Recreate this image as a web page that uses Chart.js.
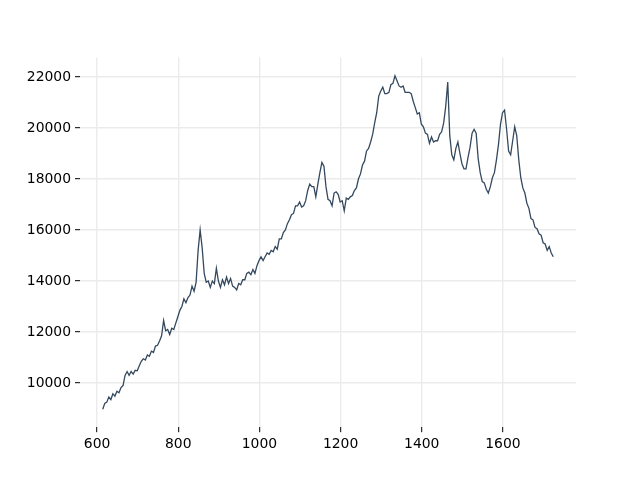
<!DOCTYPE html>
<html>
<head>
<meta charset="utf-8">
<script src="https://cdn.jsdelivr.net/npm/chart.js@4/dist/chart.umd.min.js"></script>
<style>
  body { margin: 0; background: #fff; }
  canvas { display: block; }
</style>
</head>
<body>
<canvas id="chart" width="640" height="480"></canvas>
<script>
// x positions: one reading every 5 units, starting at 614
const xStart = 614;
const xStep = 5;

// values, one per x position
const values = [
  8970, 9200, 9250, 9450, 9350, 9580, 9480, 9680, 9620, 9820,
  9900, 10300, 10450, 10300, 10450, 10350, 10500, 10480, 10680, 10850,
  10950, 10900, 11100, 11050, 11250, 11200, 11450, 11480, 11650, 11850,
  12450, 12050, 12100, 11900, 12150, 12100, 12350, 12600, 12850, 13000,
  13300, 13150, 13350, 13450, 13800, 13600, 13950, 15200, 16000, 15300,
  14300, 13950, 14000, 13750, 14000, 13900, 14500, 14000, 13750, 14050,
  13850, 14150, 13900, 14100, 13800, 13750, 13650, 13900, 13850, 14050,
  14050, 14300, 14350, 14250, 14450, 14300, 14600, 14800, 14950, 14800,
  14950, 15100, 15050, 15200, 15150, 15350, 15250, 15650, 15650, 15900,
  16000, 16250, 16400, 16600, 16650, 16950, 16950, 17100, 16900, 16950,
  17150, 17550, 17800, 17700, 17700, 17300, 17800, 18250, 18650, 18500,
  17700, 17200, 17150, 16950, 17450, 17500, 17400, 17100, 17150, 16750,
  17250, 17200, 17300, 17350, 17550, 17650, 18000, 18200, 18550, 18700,
  19100, 19200, 19450, 19750, 20200, 20600, 21250, 21450, 21600, 21350,
  21350, 21400, 21700, 21750, 22050, 21850, 21650, 21600, 21650, 21400,
  21400, 21400, 21350, 21050, 20800, 20550, 20600, 20150, 20050, 19800,
  19750, 19400, 19650, 19450, 19500, 19500, 19750, 19850, 20200, 20850,
  21800, 19700, 18950, 18750, 19200, 19450, 19000, 18600, 18400, 18400,
  18850, 19250, 19800, 19950, 19800, 18800, 18250, 17900, 17850, 17600,
  17450, 17700, 18050, 18250, 18750, 19350, 20150, 20600, 20700, 19950,
  19100, 18950, 19500, 20050, 19700, 18750, 18050, 17650, 17450, 17050,
  16850, 16450, 16400, 16100, 16050, 15850, 15800, 15500, 15450, 15200,
  15350, 15100, 14950
];

const xTicks = [600, 800, 1000, 1200, 1400, 1600];
const yTicks = [10000, 12000, 14000, 16000, 18000, 20000, 22000];

const points = values.map((v, i) => ({ x: xStart + i * xStep, y: v }));

const tickFont = { family: 'DejaVu Sans', size: 13.9 };
const gridColor = '#ebebeb';

new Chart(document.getElementById('chart').getContext('2d'), {
  type: 'line',
  data: {
    datasets: [{
      data: points,
      borderColor: '#34495e',
      borderWidth: 1.3,
      pointRadius: 0,
      tension: 0,
      fill: false
    }]
  },
  options: {
    responsive: false,
    animation: false,
    layout: { padding: { top: 57.6, right: 64, left: 0, bottom: 0 } },
    plugins: { legend: { display: false }, tooltip: { enabled: false } },
    scales: {
      x: {
        type: 'linear',
        min: 558,
        max: 1780,
        border: { display: false },
        grid: { color: gridColor, lineWidth: 1.4, tickColor: '#000', tickLength: 5, tickWidth: 1 },
        ticks: { color: '#000', font: tickFont, padding: 4, maxRotation: 0, callback: v => String(v) },
        afterBuildTicks: s => { s.ticks = xTicks.map(v => ({ value: v })); },
        afterFit: s => { s.height = 52.8; }
      },
      y: {
        type: 'linear',
        min: 8267,
        max: 22761,
        border: { display: false },
        grid: { color: gridColor, lineWidth: 1.4, tickColor: '#000', tickLength: 5, tickWidth: 1 },
        ticks: { color: '#000', font: tickFont, padding: 4, callback: v => String(v) },
        afterBuildTicks: s => { s.ticks = yTicks.map(v => ({ value: v })); },
        afterFit: s => { s.width = 80; }
      }
    }
  }
});
</script>
</body>
</html>
